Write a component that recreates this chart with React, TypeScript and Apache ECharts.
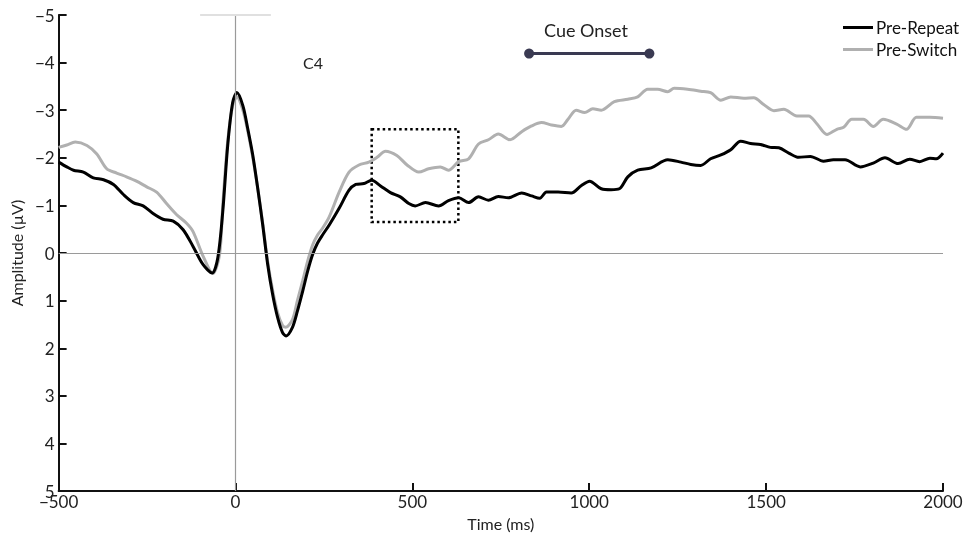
import React, { useEffect, useRef } from "react";
import * as echarts from "echarts";

const xTicks = [-500, 0, 500, 1000, 1500, 2000];
const yTicks = [-5, -4, -3, -2, -1, 0, 1, 2, 3, 4, 5];

const repeatTime = [
  -500, -477, -458, -430, -402, -373, -345, -317, -289, -261, -233, -205, -176, -148, -120, -92, -66, -50, -36, -22, -8, 4, 21, 35, 49, 63, 77, 91, 105, 119, 133, 143, 161, 175, 190, 204, 218, 232, 246, 265, 293, 321, 340, 363, 385, 410, 438, 466, 490, 508, 537, 574, 602, 631, 659, 687, 715, 743, 771, 809, 837, 860, 879, 912, 949, 978, 1001, 1034, 1062, 1085, 1109, 1137, 1175, 1222, 1259, 1287, 1315, 1343, 1372, 1400, 1428, 1456, 1484, 1512, 1536, 1564, 1592, 1625, 1662, 1690, 1723, 1766, 1803, 1836, 1873, 1906, 1934, 1963, 1981, 2000,
];
const repeatValue = [
  -1.91, -1.81, -1.74, -1.7, -1.58, -1.54, -1.44, -1.23, -1.06, -0.99, -0.83, -0.71, -0.67, -0.49, -0.14, 0.24, 0.42, 0.1, -0.87, -2.26, -3.16, -3.37, -3.09, -2.6, -2.05, -1.35, -0.59, 0.24, 0.87, 1.35, 1.67, 1.74, 1.56, 1.22, 0.8, 0.38, 0.03, -0.21, -0.38, -0.59, -0.94, -1.32, -1.44, -1.46, -1.53, -1.41, -1.27, -1.18, -1.04, -0.99, -1.06, -0.99, -1.1, -1.16, -1.06, -1.18, -1.11, -1.19, -1.16, -1.26, -1.2, -1.15, -1.28, -1.28, -1.26, -1.42, -1.51, -1.35, -1.33, -1.35, -1.6, -1.74, -1.79, -1.96, -1.91, -1.86, -1.84, -1.98, -2.06, -2.17, -2.35, -2.3, -2.28, -2.22, -2.21, -2.1, -2.01, -2.03, -1.93, -1.96, -1.96, -1.81, -1.89, -2.0, -1.88, -1.97, -1.92, -1.99, -1.98, -2.1,
];

const switchTime = [
  -500, -477, -453, -420, -392, -364, -336, -308, -280, -251, -223, -195, -167, -139, -120, -92, -64, -45, -36, -22, -8, 4, 21, 35, 49, 63, 77, 91, 105, 119, 133, 142, 161, 175, 190, 204, 218, 232, 246, 265, 293, 321, 349, 377, 400, 424, 456, 485, 518, 546, 579, 602, 631, 659, 687, 715, 743, 776, 809, 837, 865, 893, 921, 940, 963, 987, 1010, 1034, 1071, 1109, 1137, 1165, 1193, 1222, 1240, 1278, 1315, 1343, 1372, 1400, 1437, 1465, 1493, 1522, 1550, 1587, 1620, 1644, 1672, 1700, 1719, 1742, 1775, 1803, 1831, 1869, 1897, 1925, 1963, 2000,
];
const switchValue = [
  -2.22, -2.27, -2.33, -2.26, -2.08, -1.77, -1.68, -1.6, -1.51, -1.39, -1.28, -1.04, -0.81, -0.63, -0.45, 0.06, 0.43, 0.03, -1.0, -2.35, -3.1, -3.28, -3.0, -2.55, -2.0, -1.35, -0.62, 0.18, 0.78, 1.25, 1.52, 1.56, 1.4, 1.0, 0.58, 0.17, -0.17, -0.38, -0.52, -0.76, -1.28, -1.7, -1.85, -1.91, -2.01, -2.14, -2.05, -1.85, -1.7, -1.77, -1.81, -1.74, -1.92, -1.98, -2.29, -2.38, -2.5, -2.38, -2.55, -2.67, -2.74, -2.69, -2.66, -2.81, -3.0, -2.95, -3.03, -3.0, -3.18, -3.23, -3.28, -3.44, -3.44, -3.39, -3.46, -3.44, -3.4, -3.37, -3.21, -3.28, -3.25, -3.26, -3.12, -2.99, -3.02, -2.88, -2.88, -2.71, -2.49, -2.6, -2.64, -2.81, -2.81, -2.66, -2.81, -2.71, -2.6, -2.85, -2.85, -2.83,
];

const cueOnsetTime = [830, 1170];
const cueOnsetLevel = -4.19;
const windowTime = [385, 630];
const windowAmp = [-2.6, -0.65];
const baselineBar = [-100, 100];

const FONT = "Lato, 'Open Sans', sans-serif";
const fmt = (v: number) => (v < 0 ? "\u2212" + String(-v) : String(v));

export default function App() {
  const ref = useRef<HTMLDivElement>(null);
  useEffect(() => {
    if (!ref.current) return;
    const chart = echarts.init(ref.current, null, { renderer: "svg" });
    const repeatData = repeatTime.map((t, i) => [t, repeatValue[i]]);
    const switchData = switchTime.map((t, i) => [t, switchValue[i]]);
    const cueData = cueOnsetTime.map((t) => [t, cueOnsetLevel]);
    chart.setOption({
      animation: false,
      textStyle: { fontFamily: FONT },
      grid: { left: 55, right: 28, top: 15, bottom: 41 },
      legend: {
        data: ["Pre-Repeat", "Pre-Switch"],
        orient: "vertical",
        left: 838,
        top: 14,
        icon: "rect",
        itemWidth: 30,
        itemHeight: 3,
        itemGap: 5,
        selectedMode: false,
        textStyle: { fontFamily: FONT, fontSize: 17, color: "#111", padding: [0, 0, 0, -2] },
      },
      xAxis: {
        type: "value",
        min: xTicks[0],
        max: xTicks[xTicks.length - 1],
        interval: 500,
        name: "Time (ms)",
        nameLocation: "middle",
        nameGap: 20,
        nameTextStyle: { fontFamily: FONT, fontSize: 16, color: "#222" },
        axisLine: { show: true, onZero: false, lineStyle: { color: "#111", width: 2 } },
        axisTick: { show: true, inside: true, length: 8, lineStyle: { color: "#111", width: 2 } },
        axisLabel: { fontFamily: FONT, fontSize: 17, color: "#222", margin: 2, formatter: fmt },
        splitLine: { show: false },
      },
      yAxis: {
        type: "value",
        min: yTicks[0],
        max: yTicks[yTicks.length - 1],
        interval: 1,
        inverse: true,
        name: "Amplitude (\u00b5V)",
        nameLocation: "middle",
        nameGap: 30,
        nameTextStyle: { fontFamily: FONT, fontSize: 16, color: "#222" },
        axisLine: { show: true, onZero: false, lineStyle: { color: "#111", width: 2 } },
        axisTick: { show: true, inside: true, length: 8, lineStyle: { color: "#111", width: 2 } },
        axisLabel: { fontFamily: FONT, fontSize: 17, color: "#222", margin: 4, formatter: fmt },
        splitLine: { show: false },
      },
      graphic: [
        {
          type: "text",
          x: 313,
          y: 62,
          style: { text: "C4", font: `16px ${FONT}`, fill: "#222", align: "center", verticalAlign: "middle" },
        },
        {
          type: "text",
          x: 586,
          y: 30,
          style: { text: "Cue Onset", font: `18px ${FONT}`, fill: "#222", align: "center", verticalAlign: "middle" },
        },
      ],
      series: [
        {
          name: "Pre-Switch",
          type: "line",
          data: switchData,
          symbol: "none",
          smooth: 0.3,
          lineStyle: { color: "#b0b0b0", width: 3 },
          itemStyle: { color: "#b0b0b0" },
          z: 3,
          markLine: {
            silent: true,
            symbol: "none",
            label: { show: false },
            data: [
              { yAxis: 0, lineStyle: { color: "#9a9a9a", width: 1.2, type: "solid" } },
              { xAxis: 0, lineStyle: { color: "#9a9a9a", width: 1.2, type: "solid" } },
              [
                { coord: [baselineBar[0], -5], lineStyle: { color: "#e0e0e0", width: 2, type: "solid" } },
                { coord: [baselineBar[1], -5] },
              ],
            ],
          },
        },
        {
          name: "Pre-Repeat",
          type: "line",
          data: repeatData,
          symbol: "none",
          smooth: 0.3,
          lineStyle: { color: "#000", width: 3 },
          itemStyle: { color: "#000" },
          z: 4,
          markArea: {
            silent: true,
            itemStyle: { color: "rgba(0,0,0,0)", borderColor: "#000", borderWidth: 2.5, borderType: [2.5, 3] },
            data: [[{ coord: [windowTime[0], windowAmp[0]] }, { coord: [windowTime[1], windowAmp[1]] }]],
          },
        },
        {
          name: "Cue Onset",
          type: "line",
          data: cueData,
          symbol: "circle",
          symbolSize: 10,
          showSymbol: true,
          lineStyle: { color: "#3a3a52", width: 3 },
          itemStyle: { color: "#3a3a52" },
          z: 5,
        },
      ],
    });
    return () => chart.dispose();
  }, []);
  return <div ref={ref} style={{ position: "fixed", left: 0, top: 0, width: 971, height: 536 }} />;
}
